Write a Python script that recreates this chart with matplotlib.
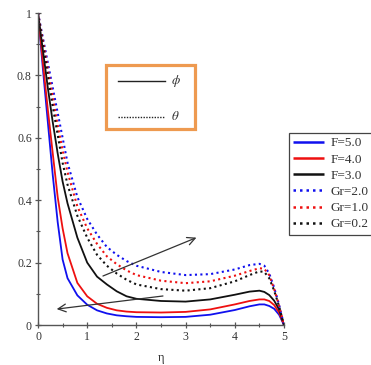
import matplotlib
matplotlib.use("Agg")
import matplotlib.pyplot as plt
from matplotlib.patches import Rectangle
from matplotlib.lines import Line2D

plt.rcParams['font.family'] = ['Liberation Serif', 'DejaVu Serif']
plt.rcParams['mathtext.fontset'] = 'stix'

# similarity variable
eta = [0, 0.1, 0.2, 0.3, 0.4, 0.5, 0.6, 0.8, 1.0, 1.2, 1.4, 1.6, 1.8, 2.0,
       2.5, 3.0, 3.5, 4.0, 4.3, 4.5, 4.6, 4.7, 4.8, 4.9, 5.0]

# concentration profiles phi (solid) for F = 5, 4, 3
phi_F5 = [1.0, 0.82, 0.65, 0.48, 0.33, 0.21, 0.15, 0.095, 0.065, 0.047, 0.037,
          0.031, 0.028, 0.026, 0.025, 0.026, 0.033, 0.048, 0.060, 0.066, 0.066,
          0.061, 0.052, 0.033, 0.0]
phi_F4 = [1.0, 0.84, 0.69, 0.55, 0.41, 0.31, 0.23, 0.135, 0.092, 0.068, 0.055,
          0.047, 0.043, 0.041, 0.040, 0.042, 0.050, 0.066, 0.077, 0.082, 0.082,
          0.077, 0.064, 0.040, 0.0]
phi_F3 = [1.0, 0.88, 0.76, 0.65, 0.55, 0.46, 0.39, 0.28, 0.20, 0.155, 0.13,
          0.108, 0.092, 0.084, 0.077, 0.075, 0.082, 0.097, 0.107, 0.110, 0.106,
          0.096, 0.078, 0.050, 0.0]

# temperature profiles theta (dotted) for Gr = 2.0, 1.0, 0.2
theta_Gr2 = [1.0, 0.92, 0.84, 0.76, 0.68, 0.60, 0.52, 0.41, 0.34, 0.29, 0.25,
             0.225, 0.205, 0.19, 0.17, 0.160, 0.163, 0.178, 0.192, 0.196, 0.19,
             0.165, 0.12, 0.065, 0.0]
theta_Gr1 = [1.0, 0.91, 0.82, 0.73, 0.64, 0.56, 0.49, 0.38, 0.31, 0.26, 0.22,
             0.195, 0.175, 0.16, 0.142, 0.134, 0.140, 0.158, 0.173, 0.182, 0.18,
             0.16, 0.115, 0.062, 0.0]
theta_Gr02 = [1.0, 0.90, 0.80, 0.70, 0.61, 0.52, 0.45, 0.35, 0.28, 0.225, 0.19,
              0.165, 0.145, 0.13, 0.115, 0.110, 0.118, 0.140, 0.160, 0.172, 0.17,
              0.15, 0.11, 0.06, 0.0]

labels = ["F=5.0", "F=4.0", "F=3.0", "Gr=2.0", "Gr=1.0", "Gr=0.2"]
series = [phi_F5, phi_F4, phi_F3, theta_Gr2, theta_Gr1, theta_Gr02]
colors = ["#1010ee", "#ee1010", "#111111", "#1010ee", "#ee1010", "#111111"]
dotted = (0, (1.0, 1.6))

W, H = 371, 365
fig = plt.figure(figsize=(W / 100, H / 100), dpi=100)
ax = fig.add_axes([38 / W, 1 - 325 / H, (284 - 38) / W, (325 - 13) / H])

for i, (y, c, lab) in enumerate(zip(series, colors, labels)):
    if i < 3:
        ax.plot(eta, y, color=c, lw=1.3, label=lab, solid_capstyle='butt')
    else:
        ax.plot(eta, y, color=c, lw=1.5, linestyle=dotted, label=lab)

ax.set_xlim(0, 5)
ax.set_ylim(0, 1)
for s in ("top", "right"):
    ax.spines[s].set_visible(False)
for s in ("left", "bottom"):
    ax.spines[s].set_color("#555555")
    ax.spines[s].set_linewidth(1.0)

ax.set_xticks([0, 1, 2, 3, 4, 5])
ax.set_xticklabels(["0", "1", "2", "3", "4", "5"])
ax.set_xticks([0.5, 1.5, 2.5, 3.5, 4.5], minor=True)
ax.set_yticks([0, 0.2, 0.4, 0.6, 0.8, 1.0])
ax.set_yticklabels(["0", "0.2", "0.4", "0.6", "0.8", "1"])
ax.set_yticks([0.1, 0.3, 0.5, 0.7, 0.9], minor=True)
ax.tick_params(which='major', direction='inout', length=5, width=0.9,
               color="#555555", labelsize=8.5, labelcolor="#333333", pad=2)
ax.tick_params(which='minor', direction='inout', length=3, width=0.8,
               color="#555555")
ax.set_xlabel("η", fontsize=9, color="#333333", labelpad=6)

# trend arrows
arrow_kw = dict(arrowstyle="->", color="#333333", lw=0.9,
                mutation_scale=14, shrinkA=0, shrinkB=0)
ax.annotate("", xy=(3.22, 0.28), xytext=(1.32, 0.157), arrowprops=arrow_kw)
ax.annotate("", xy=(0.38, 0.051), xytext=(2.54, 0.093), arrowprops=arrow_kw)

# line-style key (phi solid, theta dotted)
box = Rectangle((106 / W, 1 - 129 / H), (195 - 106) / W, (129 - 65) / H,
                transform=fig.transFigure, facecolor="white",
                edgecolor="#ee9a50", lw=2.3, zorder=5)
fig.patches.append(box)
fig.add_artist(Line2D([118 / W, 165 / W], [1 - 81 / H, 1 - 81 / H],
                      transform=fig.transFigure, color="#222222", lw=1.0,
                      zorder=6))
fig.add_artist(Line2D([118 / W, 165 / W], [1 - 117 / H, 1 - 117 / H],
                      transform=fig.transFigure, color="#222222", lw=1.0,
                      linestyle=(0, (1, 1)), zorder=6))
fig.text(171 / W, 1 - 81 / H, r"$\phi$", fontsize=9.5, va="center",
         color="#333333", zorder=7)
fig.text(171 / W, 1 - 117 / H, r"$\theta$", fontsize=9.5, va="center",
         color="#333333", zorder=7)

leg = fig.legend(loc="upper left", bbox_to_anchor=(289 / W, 1 - 133 / H),
                 fontsize=9.5, frameon=True, fancybox=False, framealpha=1,
                 edgecolor="#444444", handlelength=2.3, handletextpad=0.5,
                 labelspacing=0.3, borderpad=0.32, borderaxespad=0)
leg.get_frame().set_linewidth(0.9)
for line in leg.get_lines():
    line.set_linewidth(1.8)
for t in leg.get_texts():
    t.set_color("#333333")

fig.savefig("out.png", dpi=100)
